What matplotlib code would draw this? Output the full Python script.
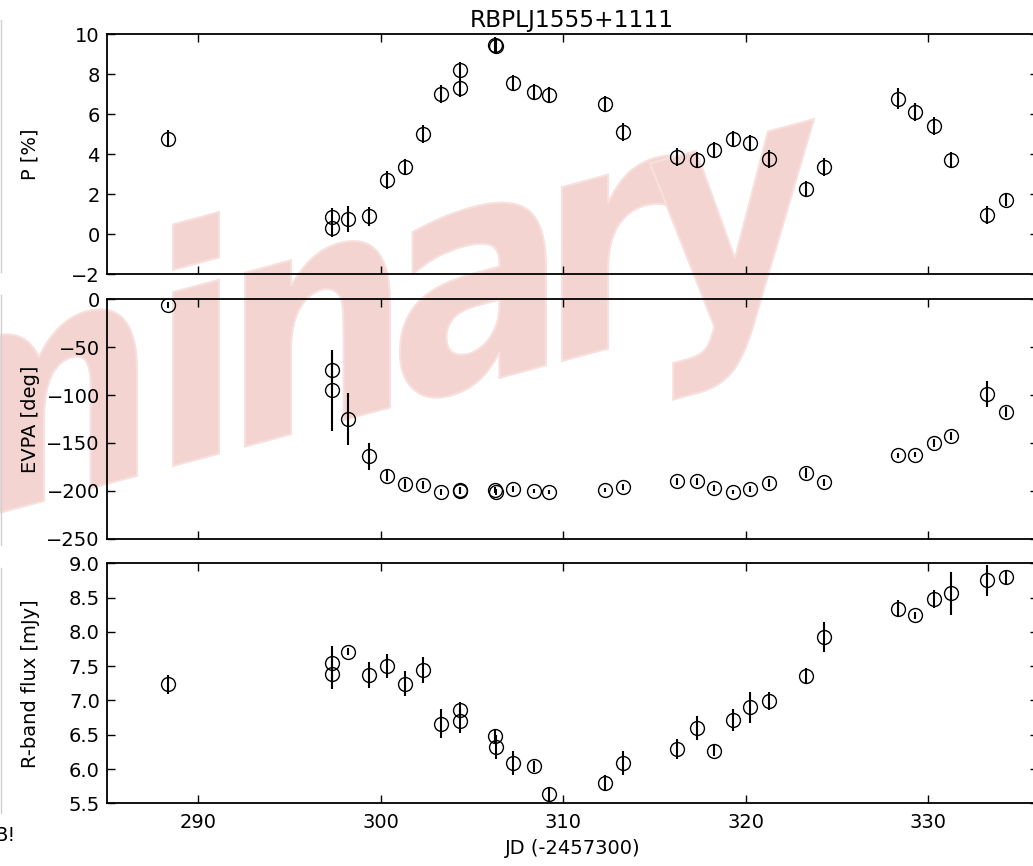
import numpy as np
import matplotlib
matplotlib.use('Agg')
import matplotlib.pyplot as plt
from matplotlib.textpath import TextPath
from matplotlib.font_manager import FontProperties
from matplotlib.patches import PathPatch
from matplotlib.transforms import Affine2D
from matplotlib.lines import Line2D

# JD - 2457300
jd = [288.37, 297.33, 297.36, 298.22, 299.35, 300.34, 301.33, 302.31, 303.32, 304.33,
      304.36, 306.25, 306.30, 307.28, 308.38, 309.25, 312.30, 313.27, 316.23, 317.33,
      318.29, 319.28, 320.25, 321.25, 323.30, 324.30, 328.32, 329.30, 330.29, 331.26,
      333.23, 334.24]

pol = [4.78, 0.87, 0.29, 0.75, 0.90, 2.70, 3.37, 5.03, 7.03, 7.30,
       8.20, 9.45, 9.42, 7.57, 7.10, 6.95, 6.53, 5.12, 3.88, 3.72,
       4.22, 4.78, 4.55, 3.78, 2.28, 3.37, 6.78, 6.12, 5.40, 3.70,
       0.95, 1.73]
pol_err = [0.43, 0.42, 0.42, 0.65, 0.47, 0.45, 0.40, 0.45, 0.45, 0.45,
           0.42, 0.40, 0.40, 0.40, 0.40, 0.40, 0.40, 0.45, 0.45, 0.40,
           0.40, 0.40, 0.40, 0.45, 0.40, 0.45, 0.52, 0.45, 0.45, 0.40,
           0.45, 0.30]

evpa = [-6, -74, -95, -125, -164, -184, -193, -194, -201, -199,
        -200, -199, -201, -198, -200, -201, -199, -196, -190, -190,
        -197, -201, -198, -192, -181, -191, -163, -162, -150, -143,
        -99, -118]
evpa_err = [3, 21, 42, 27, 14.5, 6, 5, 4, 3, 3,
            3, 3, 3, 3, 2, 2, 2, 3, 4, 4,
            3, 2, 3, 4, 5, 4, 3, 3, 4, 4,
            13.5, 5]

flux = [7.235, 7.39, 7.54, 7.71, 7.37, 7.50, 7.245, 7.44, 6.66, 6.70,
        6.86, 6.48, 6.32, 6.09, 6.04, 5.63, 5.80, 6.09, 6.29, 6.60,
        6.27, 6.71, 6.90, 6.99, 7.36, 7.93, 8.34, 8.24, 8.485, 8.56,
        8.75, 8.80]
flux_err = [0.14, 0.22, 0.26, 0.05, 0.19, 0.17, 0.18, 0.19, 0.21, 0.17,
            0.12, 0.11, 0.17, 0.17, 0.08, 0.10, 0.12, 0.17, 0.15, 0.17,
            0.08, 0.16, 0.23, 0.13, 0.12, 0.22, 0.12, 0.05, 0.13, 0.32,
            0.22, 0.10]

W, H = 1033, 866
fig = plt.figure(figsize=(W / 100., H / 100.), dpi=100)
fig.patch.set_facecolor('white')


def px_axes(top, bottom):
    return fig.add_axes([106.7 / W, (H - bottom) / H, (1037.8 - 106.7) / W, (bottom - top) / H])


ax1 = px_axes(34.3, 274.3)
ax2 = px_axes(299.0, 539.0)
ax3 = px_axes(563.3, 803.3)

panels = [
    (ax1, pol, pol_err, 'P [%]', (-2, 10), np.arange(-2, 10.1, 2)),
    (ax2, evpa, evpa_err, 'EVPA [deg]', (-250, 0), np.arange(-250, 1, 50)),
    (ax3, flux, flux_err, 'R-band flux [mJy]', (5.5, 9.0), np.arange(5.5, 9.01, 0.5)),
]

for ax, y, yerr, label, lim, ticks in panels:
    ax.set_facecolor('none')
    ax.errorbar(jd, y, yerr=yerr, fmt='o', mfc='none', mec='k', ecolor='k',
                ms=10, mew=1.0, elinewidth=1.5, capsize=0)
    ax.set_xlim(285, 336)
    ax.set_ylim(*lim)
    ax.set_yticks(ticks)
    ax.set_xticks([290, 300, 310, 320, 330])
    ax.tick_params(direction='in', top=True, right=True, length=5.5, width=1,
                   labelsize=14)
    ax.tick_params(axis='y', pad=5)
    ax.tick_params(axis='x', pad=7)
    for sp in ax.spines.values():
        sp.set_linewidth(1.3)
    ax.set_ylabel(label, fontsize=14)
    ax.yaxis.set_label_coords(-0.072, 0.5)

ax1.tick_params(labelbottom=False)
ax2.tick_params(labelbottom=False)
ax1.set_title('RBPLJ1555+1111', fontsize=16.8, pad=5)
ax3.set_xlabel('JD (-2457300)', fontsize=14)
ax3.xaxis.set_label_coords(0.5, -0.15)

# sheared "Preliminary" watermark (only "minary" is inside the picture),
# laid out letter by letter in pixel units
fp = FontProperties(family='DejaVu Sans', weight='bold')
glyphs = {ch: TextPath((0, 0), ch, size=100, prop=fp) for ch in 'minary'}
n_ext = glyphs['n'].get_extents()
sx = 145. / n_ext.width
sy = 178. / n_ext.height
slope = 0.27
m_w = glyphs['m'].get_extents().width * sx
letters = ['m', 'i', 'n', 'a', 'r', 'y']
lefts = [137 - m_w, 173, 245, 400, 562, 650]
for ch, left in zip(letters, lefts):
    ext = glyphs[ch].get_extents()
    tr = (Affine2D().translate(-ext.x0, 0).scale(sx, sy).translate(left, 0)
          .skew(0, np.arctan(slope)).translate(0, 400 - slope * 173)
          .scale(1. / W, 1. / H) + fig.transFigure)
    fig.add_artist(PathPatch(glyphs[ch], transform=tr, facecolor='#f4d4d0',
                             edgecolor='#f7e0dd', lw=1.5, zorder=-5))

# bits of the neighbouring panel at the left edge
for y0, y1 in [(20, 272), (295, 545), (568, 813)]:
    fig.add_artist(Line2D([1. / W, 1. / W], [1 - y0 / H, 1 - y1 / H],
                          transform=fig.transFigure, color='#d0d0d0', lw=1))
fig.text(-6. / W, 1 - 841. / H, 'B!', fontsize=14)

fig.savefig('out.png', dpi=100)
